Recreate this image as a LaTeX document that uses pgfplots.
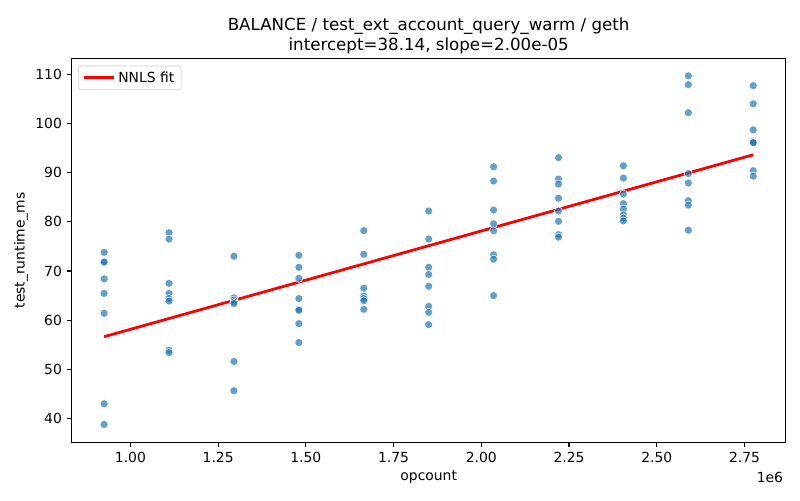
\documentclass[border=0pt]{standalone}
\usepackage{fontspec}
\setmainfont{DejaVu Sans}
\usepackage{pgfplots}
\pgfplotsset{compat=1.18}
\definecolor{c0}{HTML}{1F77B4}
\definecolor{legedge}{HTML}{CCCCCC}
\pgfplotstableread{
x y
0.925 73.8
0.925 71.9
0.925 71.8
0.925 68.4
0.925 65.45
0.925 61.4
0.925 43.0
0.925 38.8
1.11 77.8
1.11 76.5
1.11 67.5
1.11 65.45
1.11 64.4
1.11 63.9
1.11 53.9
1.11 53.4
1.295 73.0
1.295 64.55
1.295 64.1
1.295 63.7
1.295 63.4
1.295 51.6
1.295 45.65
1.48 73.2
1.48 70.75
1.48 68.5
1.48 64.4
1.48 62.2
1.48 62.0
1.48 59.3
1.48 55.45
1.665 78.2
1.665 73.4
1.665 66.5
1.665 64.9
1.665 64.4
1.665 63.95
1.665 62.2
1.85 82.2
1.85 76.5
1.85 70.75
1.85 69.3
1.85 66.9
1.85 62.8
1.85 61.6
1.85 59.1
2.035 91.2
2.035 88.3
2.035 82.4
2.035 79.6
2.035 78.2
2.035 73.3
2.035 72.4
2.035 65.0
2.22 93.06
2.22 88.7
2.22 87.7
2.22 84.8
2.22 82.2
2.22 80.1
2.22 77.4
2.22 76.9
2.405 91.4
2.405 88.9
2.405 85.65
2.405 83.7
2.405 82.6
2.405 81.4
2.405 80.75
2.405 80.2
2.59 109.7
2.59 107.9
2.59 102.2
2.59 89.8
2.59 87.9
2.59 84.3
2.59 83.4
2.59 78.3
2.775 107.7
2.775 104.0
2.775 98.7
2.775 96.4
2.775 96.2
2.775 96.1
2.775 90.4
2.775 89.3
}\scatterdata
\begin{document}
\begin{tikzpicture}
\useasboundingbox (-51.6pt,-41.5pt) rectangle (524.4pt,318.5pt);
\begin{axis}[
  at={(0,0)}, anchor=south west,
  scale only axis, width=514.1pt, height=276.5pt,
  xmin=0.8325, xmax=2.8675, ymin=35.15, ymax=113.25,
  /pgf/number format/assume math mode=true,
  xtick={1,1.25,1.5,1.75,2,2.25,2.5,2.75},
  xticklabel style={/pgf/number format/.cd, fixed, fixed zerofill, precision=2},
  ytick={40,50,60,70,80,90,100,110},
  yticklabel style={/pgf/number format/.cd, fixed, precision=0},
  scaled x ticks=false,
  tick align=outside, tick pos=left,
  major tick length=3.5pt,
  every tick/.style={black, line width=0.8pt},
  axis line style={line width=0.8pt},
  ticklabel style={font=\fontsize{10}{12}\selectfont},
  legend style={at={(0,1)}, anchor=north west, xshift=4.8pt, yshift=-5.3pt,
    draw=legedge, rounded corners=2pt, fill=white, fill opacity=0.8, text opacity=1,
    font=\fontsize{10}{12}\selectfont, inner xsep=3pt, inner ysep=2pt,
    nodes={inner sep=2pt}},
  legend cell align=left,
  legend image code/.code={\draw[#1] (0pt,0pt) -- (21.6pt,0pt);},
]
\addplot[only marks, mark=*, mark size=2.9pt,
  mark options={fill=c0, draw=white, line width=0.5pt, fill opacity=0.7, draw opacity=0.8},
  forget plot] table[x=x, y=y] {\scatterdata};
\addplot[red, line width=2pt] coordinates {(0.925,56.64) (2.775,93.64)};
\addlegendentry{NNLS fit}
\end{axis}
\node[rotate=90, font=\fontsize{10}{12}\selectfont] at (-36.5pt,138.25pt) {test\_runtime\_ms};
\node[font=\fontsize{10}{12}\selectfont] at (257.05pt,-25pt) {opcount};
\node[anchor=north east, inner sep=0pt, font=\fontsize{10}{12}\selectfont] at (512.4pt,-21pt) {1e6};
\node[anchor=base, inner sep=0pt, font=\fontsize{12}{14.4}\selectfont] at (257.05pt,282.5pt) {intercept=38.14, slope=2.00e-05};
\node[anchor=base, inner sep=0pt, font=\fontsize{12}{14.4}\selectfont] at (257.05pt,296.9pt) {BALANCE / test\_ext\_account\_query\_warm / geth};
\end{tikzpicture}
\end{document}
